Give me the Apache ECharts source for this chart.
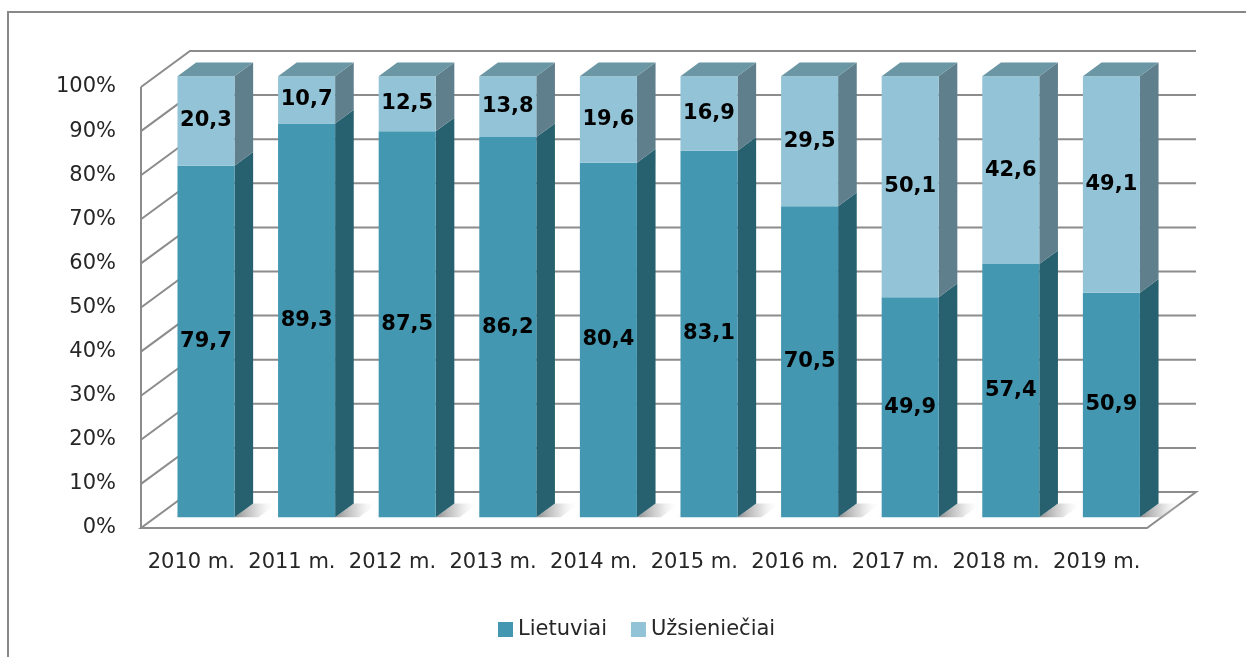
<!DOCTYPE html>
<html>
<head>
<meta charset="utf-8">
<script src="https://cdn.jsdelivr.net/npm/echarts@6/dist/echarts.min.js"></script>
<style>
  html, body { margin: 0; padding: 0; background: #ffffff; }
  #chart { width: 1246px; height: 657px; }
</style>
</head>
<body>
<div id="chart"></div>
<script>
// Share of Lithuanian and foreign participants per year, in percent
const years = ['2010 m.', '2011 m.', '2012 m.', '2013 m.', '2014 m.', '2015 m.', '2016 m.', '2017 m.', '2018 m.', '2019 m.'];
const lietuviai = [79.7, 89.3, 87.5, 86.2, 80.4, 83.1, 70.5, 49.9, 57.4, 50.9];
const uzsienieciai = [20.3, 10.7, 12.5, 13.8, 19.6, 16.9, 29.5, 50.1, 42.6, 49.1];
const yTicks = [0, 10, 20, 30, 40, 50, 60, 70, 80, 90, 100];

// Pseudo-3D projection: full depth of the plot box, bar depth band and bar width
const DX = 49, DY = -36;
const F1 = 0.30, F2 = 0.68;
const BAR_W = 0.567;

const FONT = '"DejaVu Sans", sans-serif';
const GRID_COLOR = '#8c8c8c';

const faces = {
  lower: { front: '#4397b0', side: '#27606f', top: '#3a8298' },
  upper: { front: '#93c3d6', side: '#5e7f8b', top: '#6b96a3' }
};

// Walls, floor and gridlines
function renderFrame(params, api) {
  const cs = params.coordSys;
  const v = api.value(0);
  const x0 = cs.x, x1 = cs.x + cs.width;
  const y = api.coord([0, v])[1];
  const children = [];
  if (v === 0) {
    children.push({
      type: 'polygon',
      shape: { points: [[x0, y], [x1, y], [x1 + DX, y + DY], [x0 + DX, y + DY]] },
      style: { fill: '#ffffff', stroke: GRID_COLOR, lineWidth: 2 }
    });
    const yTop = api.coord([0, 100])[1];
    children.push({
      type: 'line',
      shape: { x1: x0, y1: yTop, x2: x0, y2: y },
      style: { stroke: GRID_COLOR, lineWidth: 2 }
    });
  } else {
    children.push({
      type: 'polyline',
      shape: { points: [[x0, y], [x0 + DX, y + DY], [x1 + DX, y + DY]] },
      style: { stroke: GRID_COLOR, lineWidth: 2, fill: null }
    });
  }
  return { type: 'group', children: children };
}

// Soft shading on the floor beside each bar
function renderShadow(params, api) {
  const i = api.value(0);
  const c = api.coord([i, 0]);
  const band = api.size([1, 0])[0];
  const w = band * BAR_W;
  const L = c[0] - w / 2 + F1 * DX;
  const R = L + w;
  const yF = c[1] + F1 * DY;
  const bdx = (F2 - F1) * DX, bdy = (F2 - F1) * DY;
  const len = 24;
  return {
    type: 'group',
    children: [
      {
        type: 'polygon',
        shape: { points: [[R, yF], [R + bdx, yF + bdy], [R + bdx + len, yF + bdy], [R + len, yF]] },
        style: {
          fill: new echarts.graphic.LinearGradient(0, 0, 1, 0, [
            { offset: 0, color: 'rgba(120,120,120,0.85)' },
            { offset: 0.5, color: 'rgba(170,170,170,0.45)' },
            { offset: 1, color: 'rgba(255,255,255,0)' }
          ])
        }
      },
      {
        type: 'polygon',
        shape: { points: [[L - 8, yF + 1], [L, yF + 1], [L + bdx, yF + bdy], [L + bdx - 8, yF + bdy]] },
        style: {
          fill: new echarts.graphic.LinearGradient(1, 0, 0, 0, [
            { offset: 0, color: 'rgba(150,150,150,0.45)' },
            { offset: 1, color: 'rgba(255,255,255,0)' }
          ])
        }
      }
    ]
  };
}

function makeBarRenderer(colors, withTop) {
  return function (params, api) {
    const i = api.value(0);
    const lo = api.value(1), hi = api.value(2);
    const band = api.size([1, 0])[0];
    const w = band * BAR_W;
    const pLo = api.coord([i, lo]);
    const pHi = api.coord([i, hi]);
    const L = pLo[0] - w / 2 + F1 * DX;
    const R = L + w;
    const yB = pLo[1] + F1 * DY;
    const yT = pHi[1] + F1 * DY;
    const bdx = (F2 - F1) * DX, bdy = (F2 - F1) * DY;
    const children = [
      {
        type: 'polygon',
        shape: { points: [[R, yT], [R + bdx, yT + bdy], [R + bdx, yB + bdy], [R, yB]] },
        style: { fill: colors.side }
      },
      {
        type: 'rect',
        shape: { x: L, y: yT, width: w, height: yB - yT },
        style: { fill: colors.front }
      }
    ];
    if (withTop) {
      children.push({
        type: 'polygon',
        shape: { points: [[L, yT], [R, yT], [R + bdx, yT + bdy], [L + bdx, yT + bdy]] },
        style: { fill: colors.top }
      });
    }
    children.push({
      type: 'text',
      style: {
        text: (hi - lo).toFixed(1).replace('.', ','),
        x: L + w / 2,
        y: (yT + yB) / 2,
        align: 'center',
        verticalAlign: 'middle',
        fontFamily: FONT,
        fontWeight: 'bold',
        fontSize: 21,
        fill: '#000000'
      }
    });
    return { type: 'group', children: children };
  };
}

const lowerData = years.map((_, i) => [i, 0, lietuviai[i]]);
const upperData = years.map((_, i) => [i, lietuviai[i], lietuviai[i] + uzsienieciai[i]]);

const chart = echarts.init(document.getElementById('chart'), null, { renderer: 'canvas' });
chart.setOption({
  animation: false,
  backgroundColor: '#ffffff',
  textStyle: { fontFamily: FONT },
  graphic: [{
    type: 'rect',
    z: 100,
    silent: true,
    shape: { x: 8, y: 12, width: 1300, height: 700 },
    style: { fill: null, stroke: '#888888', lineWidth: 2 }
  }],
  grid: { left: 141, right: 99, top: 87, bottom: 129 },
  legend: {
    left: 493,
    top: 614,
    itemWidth: 15,
    itemHeight: 15,
    itemGap: 24,
    icon: 'rect',
    textStyle: { fontFamily: FONT, fontSize: 21, color: '#262626' },
    data: ['Lietuviai', 'Užsieniečiai']
  },
  xAxis: {
    type: 'category',
    data: years,
    axisLine: { show: false },
    axisTick: { show: false },
    axisLabel: { fontFamily: FONT, fontSize: 21, color: '#262626', margin: 24, interval: 0 }
  },
  yAxis: {
    type: 'value',
    min: 0,
    max: 100,
    interval: 10,
    axisLine: { show: false },
    axisTick: { show: false },
    splitLine: { show: false },
    axisLabel: { fontFamily: FONT, fontSize: 21, color: '#262626', margin: 25, formatter: '{value}%' }
  },
  series: [
    {
      type: 'custom',
      name: 'frame',
      silent: true,
      clip: false,
      z: 1,
      renderItem: renderFrame,
      encode: { y: 0 },
      data: yTicks.map(v => [v])
    },
    {
      type: 'custom',
      name: 'shadow',
      silent: true,
      clip: false,
      z: 2,
      renderItem: renderShadow,
      encode: { x: 0 },
      data: years.map((_, i) => [i])
    },
    {
      type: 'custom',
      name: 'Lietuviai',
      clip: false,
      z: 3,
      itemStyle: { color: faces.lower.front },
      renderItem: makeBarRenderer(faces.lower, false),
      encode: { x: 0, y: [1, 2] },
      data: lowerData
    },
    {
      type: 'custom',
      name: 'Užsieniečiai',
      clip: false,
      z: 4,
      itemStyle: { color: faces.upper.front },
      renderItem: makeBarRenderer(faces.upper, true),
      encode: { x: 0, y: [1, 2] },
      data: upperData
    }
  ]
});
</script>
</body>
</html>
